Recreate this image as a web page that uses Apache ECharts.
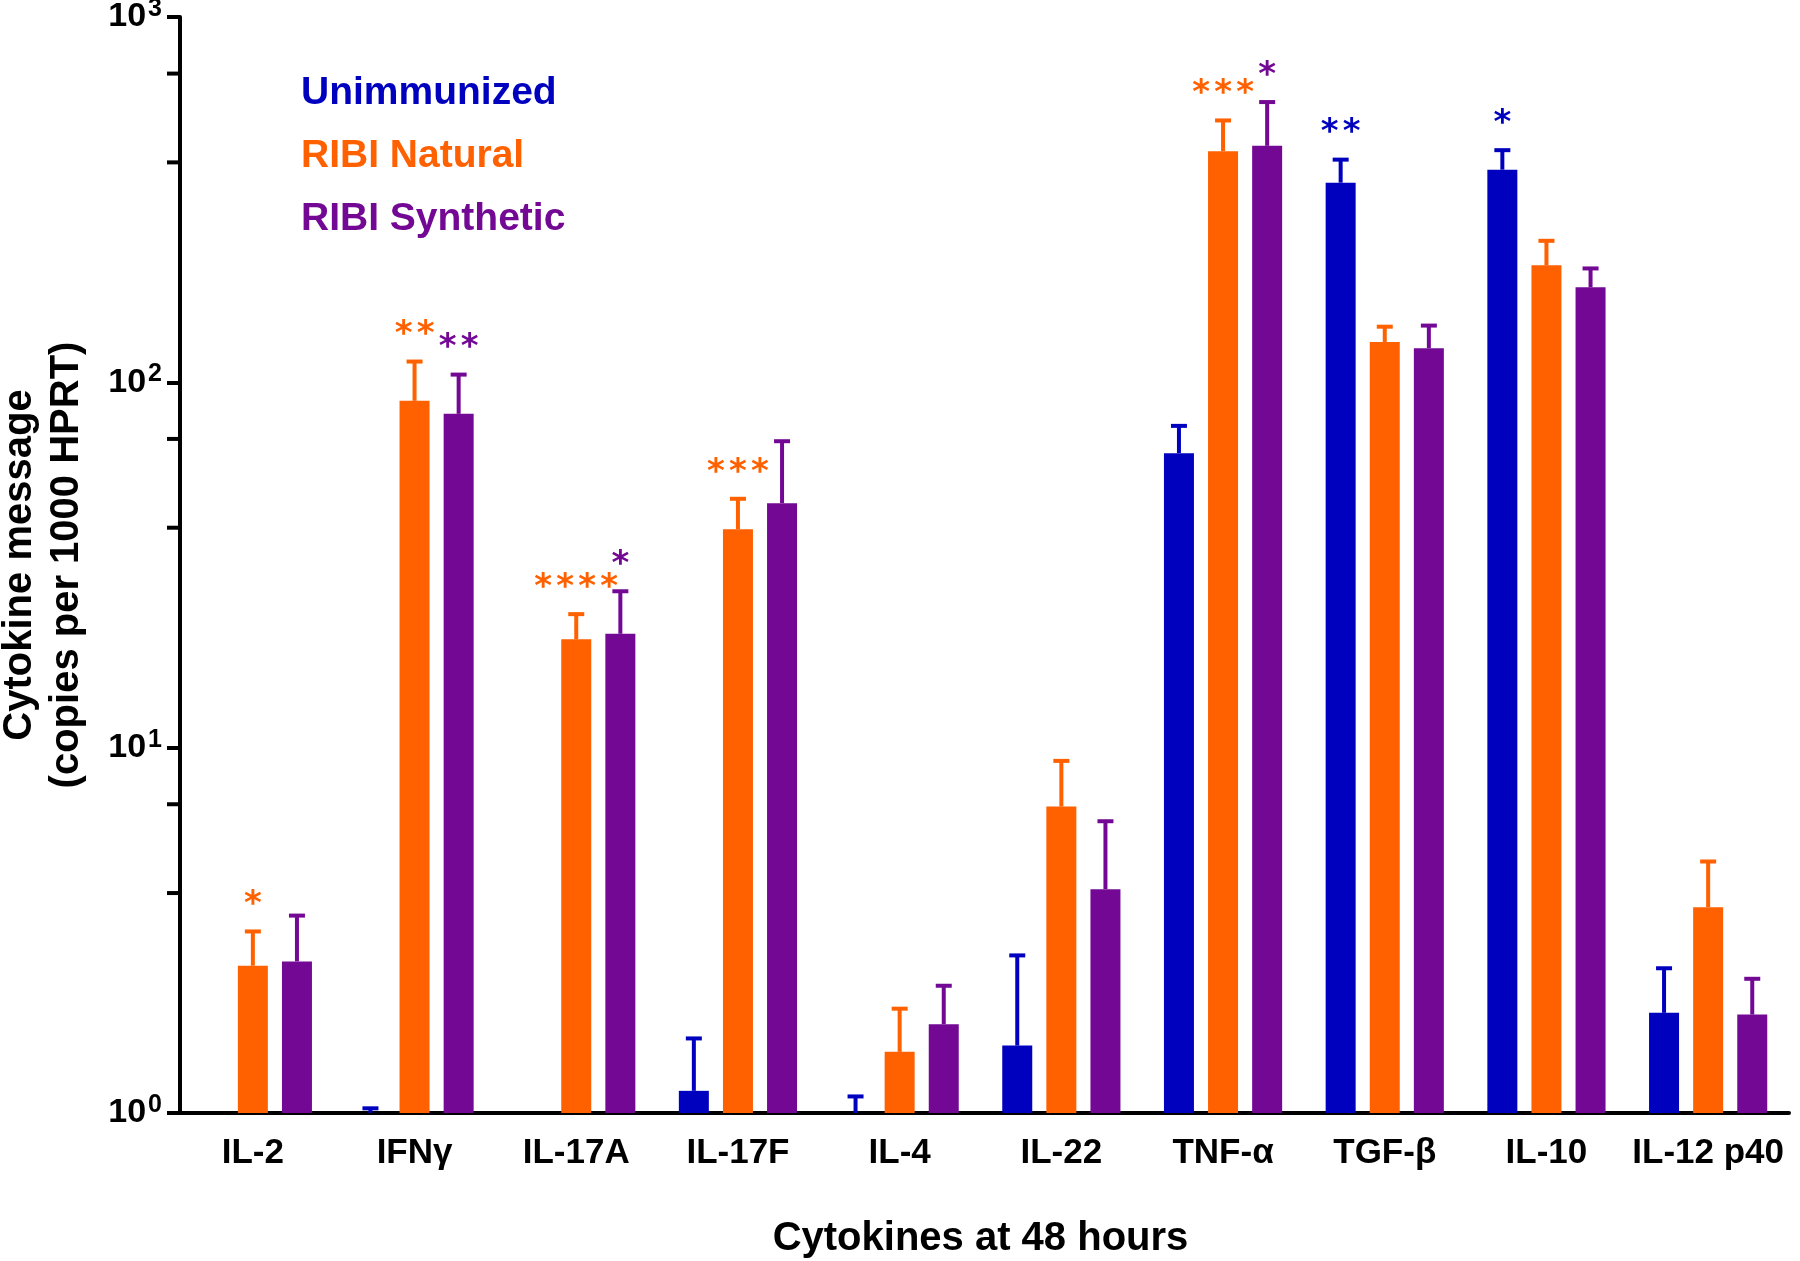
<!DOCTYPE html>
<html>
<head>
<meta charset="utf-8">
<script src="https://cdn.jsdelivr.net/npm/echarts@6/dist/echarts.min.js"></script>
<style>
html,body{margin:0;padding:0;background:#fff;}
#chart{width:1800px;height:1261px;}
</style>
</head>
<body>
<div id="chart"></div>
<script>
// ---- data ----
const categories = ['IL-2', 'IFNγ', 'IL-17A', 'IL-17F', 'IL-4', 'IL-22', 'TNF-α', 'TGF-β', 'IL-10', 'IL-12 p40'];
const seriesNames = ['Unimmunized', 'RIBI Natural', 'RIBI Synthetic'];
// means (values below 1 fall under the axis floor)
const unimmunized = [null, 0.9, null, 1.15, 0.9, 1.53, 64, 352, 382, 1.88];
const natural     = [2.53, 89, 19.8, 39.6, 1.47, 6.9, 429, 129, 209, 3.66];
const synthetic   = [2.6, 82, 20.5, 46.7, 1.75, 4.1, 444, 124, 182, 1.86];
// upper ends of error bars
const unimmunizedErr = [null, 1.03, null, 1.6, 1.11, 2.7, 76, 407, 432, 2.49];
const naturalErr     = [3.14, 114, 23.2, 48, 1.93, 9.2, 521, 142, 244, 4.88];
const syntheticErr   = [3.47, 105, 26.8, 69, 2.23, 6.29, 585, 143, 205, 2.33];
// significance marks
const unimmunizedStars = ['', '', '', '', '', '', '', '**', '*', ''];
const naturalStars     = ['*', '**', '****', '***', '', '', '***', '', '', ''];
const syntheticStars   = ['', '**', '*', '', '', '', '*', '', '', ''];
// y axis minor ticks
const yMinorTicks = [4, 7, 40, 70, 400, 700];

// ---- styles ----
const colors = ['#0000BF', '#FF6000', '#730894'];
const FONT = 'Liberation Sans';
const BAR_W = 30;
const BAR_GAP = 0.47;
const AXIS_SHIFT = 8;
const STAR_STEP = 22;

function barData(arr) { return arr.map(v => (v != null && v >= 1) ? v : null); }

function errSeries(k, means, tops, stars) {
  const offset = (k - 1) * BAR_W * (1 + BAR_GAP);
  return {
    type: 'custom',
    name: seriesNames[k] + ' error',
    clip: false,
    z: 5,
    silent: true,
    data: categories.map((c, i) => [i, means[i] != null ? means[i] : 1, tops[i] != null ? tops[i] : 0]),
    encode: { x: 0, y: 2 },
    renderItem: function (params, api) {
      const i = api.value(0);
      const mean = Math.max(api.value(1), 1);
      const top = api.value(2);
      const children = [];
      let capY = null;
      const cx = api.coord([i, mean])[0] + offset;
      if (top > 1) {
        const yb = api.coord([i, mean])[1];
        const yt = api.coord([i, top])[1];
        capY = yt;
        children.push({ type: 'line', shape: { x1: cx, y1: yb, x2: cx, y2: yt }, style: { stroke: colors[k], lineWidth: 4 } });
        children.push({ type: 'line', shape: { x1: cx - 8, y1: yt, x2: cx + 8, y2: yt }, style: { stroke: colors[k], lineWidth: 4 } });
      }
      const s = stars[params.dataIndex];
      if (s && capY != null) {
        const n = s.length;
        for (let j = 0; j < n; j++) {
          children.push({
            type: 'text',
            style: {
              x: cx + (j - (n - 1) / 2) * STAR_STEP, y: capY - 26, text: s[j], fill: colors[k],
              font: 'bold 34px "DejaVu Sans"', align: 'center', verticalAlign: 'middle'
            }
          });
        }
      }
      return { type: 'group', children: children };
    }
  };
}

const option = {
  backgroundColor: '#ffffff',
  animation: false,
  grid: { left: 172, right: 11, top: 17, bottom: 148, outerBoundsMode: 'none' },
  legend: {
    orient: 'vertical',
    left: 291, top: 69,
    itemWidth: 0, itemHeight: 0, itemGap: 24,
    icon: 'rect',
    selectedMode: false,
    textStyle: { fontFamily: FONT, fontWeight: 'bold', fontSize: 39 },
    data: seriesNames.map((n, k) => ({ name: n, textStyle: { color: colors[k] } }))
  },
  xAxis: {
    type: 'category',
    data: categories,
    axisLine: { lineStyle: { color: '#000', width: 4 } },
    axisTick: { show: false },
    axisLabel: { interval: 0, color: '#000', fontFamily: FONT, fontWeight: 'bold', fontSize: 35, margin: 23 },
    name: 'Cytokines at 48 hours',
    nameLocation: 'middle',
    nameGap: 106,
    nameTextStyle: { color: '#000', fontFamily: FONT, fontWeight: 'bold', fontSize: 40 }
  },
  yAxis: {
    type: 'log',
    logBase: 10,
    min: 1, max: 1000,
    offset: -AXIS_SHIFT,
    splitLine: { show: false },
    axisLine: { show: true, lineStyle: { color: '#000', width: 4 } },
    axisTick: { show: true, length: 13, lineStyle: { color: '#000', width: 4 } },
    axisLabel: {
      margin: 18,
      formatter: function (v) {
        const e = Math.round(Math.log10(v));
        return '{b|10}{s|' + e + '}';
      },
      rich: {
        b: { fontFamily: FONT, fontWeight: 'bold', fontSize: 34, color: '#000' },
        s: { fontFamily: FONT, fontWeight: 'bold', fontSize: 25, color: '#000', padding: [0, 0, 16, 2] }
      }
    },
    name: 'Cytokine message\n(copies per 1000 HPRT)',
    nameLocation: 'middle',
    nameGap: 90,
    nameMoveOverlap: false,
    nameTextStyle: { color: '#000', fontFamily: FONT, fontWeight: 'bold', fontSize: 40, lineHeight: 47 }
  },
  series: [
    { type: 'bar', name: seriesNames[0], data: barData(unimmunized), barWidth: BAR_W, barGap: (BAR_GAP * 100) + '%', itemStyle: { color: colors[0] } },
    { type: 'bar', name: seriesNames[1], data: barData(natural), barWidth: BAR_W, barGap: (BAR_GAP * 100) + '%', itemStyle: { color: colors[1] } },
    { type: 'bar', name: seriesNames[2], data: barData(synthetic), barWidth: BAR_W, barGap: (BAR_GAP * 100) + '%', itemStyle: { color: colors[2] } },
    errSeries(0, unimmunized, unimmunizedErr, unimmunizedStars),
    errSeries(1, natural, naturalErr, naturalStars),
    errSeries(2, synthetic, syntheticErr, syntheticStars),
    {
      type: 'custom',
      name: 'minor ticks',
      clip: false,
      silent: true,
      data: yMinorTicks.map(v => [0, v]),
      encode: { x: 0, y: 1 },
      renderItem: function (params, api) {
        const y = api.coord([0, api.value(1)])[1];
        const x0 = params.coordSys.x + AXIS_SHIFT;
        return { type: 'line', shape: { x1: x0 - 13, y1: y, x2: x0, y2: y }, style: { stroke: '#000', lineWidth: 4 } };
      }
    }
  ]
};

const chart = echarts.init(document.getElementById('chart'), null, { renderer: 'canvas' });
chart.setOption(option);
</script>
</body>
</html>
